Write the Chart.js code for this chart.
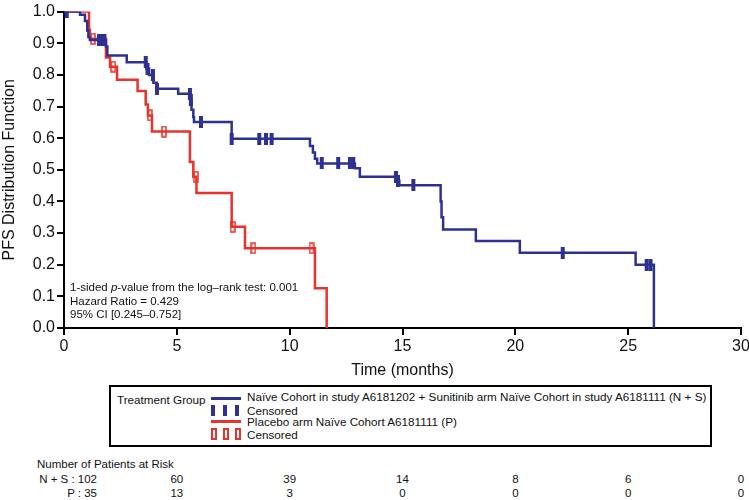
<!DOCTYPE html>
<html>
<head>
<meta charset="utf-8">
<script src="https://cdn.jsdelivr.net/npm/chart.js@4/dist/chart.umd.min.js"></script>
<style>
  body { margin: 0; background: #fff; font-family: "Liberation Sans", Arial, sans-serif; color: #111; }
  #page { position: relative; width: 749px; height: 500px; overflow: hidden; }
  #wrap { position: absolute; left: 0; top: 0; width: 749px; height: 385px; }
  .note { position: absolute; left: 70px; font-size: 11.5px; line-height: 13.5px; top: 281px; }
  #legend { position: absolute; left: 109px; top: 385px; width: 599px; height: 58px; border: 2px solid #000; font-size: 11.7px; }
  #legend .lbl { position: absolute; white-space: nowrap; }
  .risk { position: absolute; font-size: 11.5px; line-height: 13px; white-space: nowrap; }
</style>
</head>
<body>
<div id="page">
  <div id="wrap"><canvas id="km"></canvas></div>
  <div class="note">1-sided <i>p</i>-value from the log–rank test: 0.001<br>Hazard Ratio = 0.429<br>95% CI [0.245–0.752]</div>
  <div id="legend"></div>
  <div id="risk"></div>
</div>
<script>
const blue = '#2e3192';
const red = '#e8322b';

// Kaplan-Meier steps [time in months, survival]
const nsSteps = [[0,1.0],[0.71,0.99],[0.93,0.97],[1.03,0.94],[1.08,0.92],[1.15,0.91],[1.86,0.89],[1.92,0.861],
  [2.78,0.84],[3.65,0.82],[3.77,0.80],[3.96,0.775],[4.11,0.756],[5.06,0.74],[5.6,0.72],[5.65,0.69],[5.73,0.667],
  [5.76,0.651],[7.43,0.598],[10.9,0.575],[11.03,0.555],[11.12,0.535],[11.22,0.52],[12.89,0.505],[13.11,0.478],
  [14.75,0.465],[14.86,0.451],[16.69,0.40],[16.73,0.35],[16.8,0.311],[18.25,0.275],[20.2,0.238],[25.33,0.2],[26.14,0]];
const nsCensored = [0.12,1.55,1.71,1.79,3.62,3.70,3.94,4.12,5.58,5.62,6.07,7.43,8.65,8.95,9.2,11.42,12.15,12.67,12.82,
  14.71,14.8,15.48,22.1,25.82,25.99];

const pSteps = [[0,1],[1.11,0.943],[1.15,0.914],[1.86,0.855],[2.04,0.826],[2.35,0.785],[3.26,0.749],[3.62,0.706],
  [3.72,0.672],[3.9,0.621],[5.58,0.525],[5.73,0.478],[5.87,0.427],[7.43,0.32],[8.02,0.252],[11.12,0.126],[11.64,0]];
const pCensored = [1.28,2.18,3.8,4.43,5.85,7.47,8.39,10.97];

const riskTimes = [0, 5, 10, 15, 20, 25, 30];
const riskNS = [102, 60, 39, 14, 8, 6, 0];
const riskP = [35, 13, 3, 0, 0, 0, 0];

function levelAt(steps, t) {
  let v = steps[0][1];
  steps.forEach(s => { if (s[0] <= t) v = s[1]; });
  return v;
}

function makeMark(color, hollow) {
  const c = document.createElement('canvas');
  c.width = 6; c.height = 12;
  const g = c.getContext('2d');
  if (hollow) {
    g.strokeStyle = color; g.lineWidth = 1.5;
    g.strokeRect(1, 1, 4, 10);
  } else {
    g.fillStyle = color;
    g.fillRect(1, 0, 4, 12);
  }
  return c;
}

const ctx = document.getElementById('km').getContext('2d');
const axisFont = { family: '"Liberation Sans", Arial, sans-serif', size: 16 };

const chart = new Chart(ctx, {
  type: 'line',
  data: {
    datasets: [
      {
        data: nsCensored.map(t => ({ x: t, y: levelAt(nsSteps, t) })),
        showLine: false, pointStyle: makeMark(blue, false), pointRadius: 5
      },
      {
        data: nsSteps.map(s => ({ x: s[0], y: s[1] })),
        borderColor: blue, borderWidth: 2.5, stepped: 'before', pointRadius: 0, fill: false
      },
      {
        data: pCensored.map(t => ({ x: t, y: levelAt(pSteps, t) })),
        showLine: false, pointStyle: makeMark(red, true), pointRadius: 5
      },
      {
        data: pSteps.map(s => ({ x: s[0], y: s[1] })),
        borderColor: red, borderWidth: 2.5, stepped: 'before', pointRadius: 0, fill: false
      }
    ]
  },
  options: {
    responsive: true,
    maintainAspectRatio: false,
    animation: false,
    layout: { padding: { top: 11, right: 8, left: 0, bottom: 0 } },
    plugins: { legend: { display: false }, tooltip: { enabled: false } },
    scales: {
      x: {
        type: 'linear', min: 0, max: 30,
        ticks: { stepSize: 5, color: '#111', font: axisFont, padding: 2, maxRotation: 0 },
        grid: { drawOnChartArea: false, color: '#000', lineWidth: 2, tickLength: 7 },
        border: { color: '#000', width: 2 },
        title: { display: true, text: 'Time (months)', color: '#111', font: axisFont, padding: { top: 0, bottom: 5 } },
        afterFit: s => { s.height = 57; s.paddingRight = 0; s.paddingLeft = 0; }
      },
      y: {
        min: 0, max: 1,
        ticks: { stepSize: 0.1, color: '#111', font: axisFont, padding: 2, callback: v => v.toFixed(1) },
        grid: { drawOnChartArea: false, color: '#000', lineWidth: 2, tickLength: 7 },
        border: { color: '#000', width: 2 },
        title: { display: true, text: 'PFS Distribution Function', color: '#111', font: axisFont, padding: { top: 0, bottom: 0 } },
        afterFit: s => { s.width = 64; }
      }
    }
  }
});

// legend box
const legend = document.getElementById('legend');
function addLabel(text, x, y) {
  const d = document.createElement('div');
  d.className = 'lbl';
  d.textContent = text;
  d.style.left = x + 'px';
  d.style.top = y + 'px';
  legend.appendChild(d);
}
function addBox(x, y, w, h, css) {
  const d = document.createElement('div');
  d.style.cssText = 'position:absolute;box-sizing:border-box;left:' + x + 'px;top:' + y + 'px;width:' + w + 'px;height:' + h + 'px;' + css;
  legend.appendChild(d);
}
addLabel('Treatment Group', 6, 6);
addBox(100, 10, 30, 3, 'background:' + blue);
addLabel('Naïve Cohort in study A6181202 + Sunitinib arm Naïve Cohort in study A6181111 (N + S)', 136, 3);
[100, 112, 124].forEach(x => addBox(x, 18, 4, 11, 'background:' + blue));
addLabel('Censored', 136, 17);
addBox(100, 33, 30, 3, 'background:' + red);
addLabel('Placebo arm Naïve Cohort A6181111 (P)', 136, 28);
[100, 112, 124].forEach(x => addBox(x, 41, 6, 12, 'border:2px solid ' + red));
addLabel('Censored', 136, 41);

// patients at risk
const risk = document.getElementById('risk');
function riskText(text, x, y, align) {
  const d = document.createElement('div');
  d.className = 'risk';
  d.textContent = text;
  d.style.top = y + 'px';
  if (align === 'right') { d.style.right = (749 - x) + 'px'; }
  else if (align === 'center') { d.style.left = (x - 30) + 'px'; d.style.width = '60px'; d.style.textAlign = 'center'; }
  else { d.style.left = x + 'px'; }
  risk.appendChild(d);
}
riskText('Number of Patients at Risk', 37, 458, 'left');
const xScale = chart.scales.x;
riskText('N + S : ' + riskNS[0], 97, 473, 'right');
riskText('P : ' + riskP[0], 97, 487, 'right');
riskTimes.slice(1).forEach((t, i) => {
  const px = xScale.getPixelForValue(t);
  riskText(String(riskNS[i + 1]), px, 473, 'center');
  riskText(String(riskP[i + 1]), px, 487, 'center');
});
</script>
</body>
</html>
